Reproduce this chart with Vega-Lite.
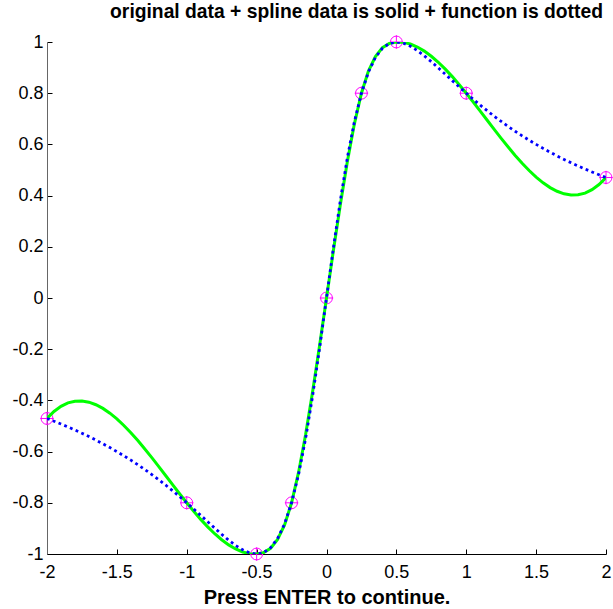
{
"$schema": "https://vega.github.io/schema/vega-lite/v6.json",
"width": 559,
"height": 512,
"autosize": {"type": "none"},
"padding": {"left": 47, "top": 42, "right": 7, "bottom": 55},
"background": "white",
"config": {"view": {"stroke": null}, "font": "Liberation Sans"},
"title": {"text": "original data + spline data is solid + function is dotted", "fontSize": 19.3, "fontWeight": "bold", "font": "Liberation Sans", "offset": 11, "dx": 30, "anchor": "middle", "color": "black"},
"datasets": {
"spline": [
{"x": -2, "y": -0.47059}, {"x": -1.95, "y": -0.44314}, {"x": -1.9, "y": -0.42304}, {"x": -1.85, "y": -0.40983}, {"x": -1.8, "y": -0.40306}, {"x": -1.75, "y": -0.40228}, {"x": -1.7, "y": -0.40703}, {"x": -1.65, "y": -0.41685}, {"x": -1.6, "y": -0.43129}, {"x": -1.55, "y": -0.44991}, {"x": -1.5, "y": -0.47224}, {"x": -1.45, "y": -0.49783}, {"x": -1.4, "y": -0.52622}, {"x": -1.35, "y": -0.55697}, {"x": -1.3, "y": -0.58962}, {"x": -1.25, "y": -0.62372}, {"x": -1.2, "y": -0.65881}, {"x": -1.15, "y": -0.69443}, {"x": -1.1, "y": -0.73014}, {"x": -1.05, "y": -0.76548}, {"x": -1, "y": -0.8}, {"x": -0.95, "y": -0.83324}, {"x": -0.9, "y": -0.86474}, {"x": -0.85, "y": -0.89407}, {"x": -0.8, "y": -0.92075}, {"x": -0.75, "y": -0.94434}, {"x": -0.7, "y": -0.96438}, {"x": -0.65, "y": -0.98042}, {"x": -0.6, "y": -0.99201}, {"x": -0.55, "y": -0.99869}, {"x": -0.5, "y": -1}, {"x": -0.45, "y": -0.99462}, {"x": -0.4, "y": -0.97767}, {"x": -0.35, "y": -0.94342}, {"x": -0.3, "y": -0.88611}, {"x": -0.25, "y": -0.8}, {"x": -0.2, "y": -0.68146}, {"x": -0.15, "y": -0.53527}, {"x": -0.1, "y": -0.36836}, {"x": -0.05, "y": -0.18764}, {"x": 0, "y": 0},
{"x": 0.05, "y": 0.18764}, {"x": 0.1, "y": 0.36836}, {"x": 0.15, "y": 0.53527}, {"x": 0.2, "y": 0.68146}, {"x": 0.25, "y": 0.8}, {"x": 0.3, "y": 0.88611}, {"x": 0.35, "y": 0.94342}, {"x": 0.4, "y": 0.97767}, {"x": 0.45, "y": 0.99462}, {"x": 0.5, "y": 1}, {"x": 0.55, "y": 0.99869}, {"x": 0.6, "y": 0.99201}, {"x": 0.65, "y": 0.98042}, {"x": 0.7, "y": 0.96438}, {"x": 0.75, "y": 0.94434}, {"x": 0.8, "y": 0.92075}, {"x": 0.85, "y": 0.89407}, {"x": 0.9, "y": 0.86474}, {"x": 0.95, "y": 0.83324}, {"x": 1, "y": 0.8}, {"x": 1.05, "y": 0.76548}, {"x": 1.1, "y": 0.73014}, {"x": 1.15, "y": 0.69443}, {"x": 1.2, "y": 0.65881}, {"x": 1.25, "y": 0.62372}, {"x": 1.3, "y": 0.58962}, {"x": 1.35, "y": 0.55697}, {"x": 1.4, "y": 0.52622}, {"x": 1.45, "y": 0.49783}, {"x": 1.5, "y": 0.47224}, {"x": 1.55, "y": 0.44991}, {"x": 1.6, "y": 0.43129}, {"x": 1.65, "y": 0.41685}, {"x": 1.7, "y": 0.40703}, {"x": 1.75, "y": 0.40228}, {"x": 1.8, "y": 0.40306}, {"x": 1.85, "y": 0.40983}, {"x": 1.9, "y": 0.42304}, {"x": 1.95, "y": 0.44314}, {"x": 2, "y": 0.47059}
],
"func": [
{"x": -2, "y": -0.47059}, {"x": -1.95, "y": -0.48118}, {"x": -1.9, "y": -0.49223}, {"x": -1.85, "y": -0.50374}, {"x": -1.8, "y": -0.51576}, {"x": -1.75, "y": -0.5283}, {"x": -1.7, "y": -0.5414}, {"x": -1.65, "y": -0.55509}, {"x": -1.6, "y": -0.5694}, {"x": -1.55, "y": -0.58435}, {"x": -1.5, "y": -0.6}, {"x": -1.45, "y": -0.61637}, {"x": -1.4, "y": -0.63348}, {"x": -1.35, "y": -0.65139}, {"x": -1.3, "y": -0.6701}, {"x": -1.25, "y": -0.68966}, {"x": -1.2, "y": -0.71006}, {"x": -1.15, "y": -0.73132}, {"x": -1.1, "y": -0.75342}, {"x": -1.05, "y": -0.77634}, {"x": -1, "y": -0.8}, {"x": -0.95, "y": -0.8243}, {"x": -0.9, "y": -0.84906}, {"x": -0.85, "y": -0.87404}, {"x": -0.8, "y": -0.89888}, {"x": -0.75, "y": -0.92308}, {"x": -0.7, "y": -0.94595}, {"x": -0.65, "y": -0.96654}, {"x": -0.6, "y": -0.98361}, {"x": -0.55, "y": -0.99548}, {"x": -0.5, "y": -1}, {"x": -0.45, "y": -0.99448}, {"x": -0.4, "y": -0.97561}, {"x": -0.35, "y": -0.9396}, {"x": -0.3, "y": -0.88235}, {"x": -0.25, "y": -0.8}, {"x": -0.2, "y": -0.68966}, {"x": -0.15, "y": -0.55046}, {"x": -0.1, "y": -0.38462}, {"x": -0.05, "y": -0.19802}, {"x": 0, "y": 0},
{"x": 0.05, "y": 0.19802}, {"x": 0.1, "y": 0.38462}, {"x": 0.15, "y": 0.55046}, {"x": 0.2, "y": 0.68966}, {"x": 0.25, "y": 0.8}, {"x": 0.3, "y": 0.88235}, {"x": 0.35, "y": 0.9396}, {"x": 0.4, "y": 0.97561}, {"x": 0.45, "y": 0.99448}, {"x": 0.5, "y": 1}, {"x": 0.55, "y": 0.99548}, {"x": 0.6, "y": 0.98361}, {"x": 0.65, "y": 0.96654}, {"x": 0.7, "y": 0.94595}, {"x": 0.75, "y": 0.92308}, {"x": 0.8, "y": 0.89888}, {"x": 0.85, "y": 0.87404}, {"x": 0.9, "y": 0.84906}, {"x": 0.95, "y": 0.8243}, {"x": 1, "y": 0.8}, {"x": 1.05, "y": 0.77634}, {"x": 1.1, "y": 0.75342}, {"x": 1.15, "y": 0.73132}, {"x": 1.2, "y": 0.71006}, {"x": 1.25, "y": 0.68966}, {"x": 1.3, "y": 0.6701}, {"x": 1.35, "y": 0.65139}, {"x": 1.4, "y": 0.63348}, {"x": 1.45, "y": 0.61637}, {"x": 1.5, "y": 0.6}, {"x": 1.55, "y": 0.58435}, {"x": 1.6, "y": 0.5694}, {"x": 1.65, "y": 0.55509}, {"x": 1.7, "y": 0.5414}, {"x": 1.75, "y": 0.5283}, {"x": 1.8, "y": 0.51576}, {"x": 1.85, "y": 0.50374}, {"x": 1.9, "y": 0.49223}, {"x": 1.95, "y": 0.48118}, {"x": 2, "y": 0.47059}
],
"points": [
{"x": -2, "y": -0.47059}, {"x": -1, "y": -0.8}, {"x": -0.5, "y": -1}, {"x": -0.25, "y": -0.8}, {"x": 0, "y": 0}, {"x": 0.25, "y": 0.8}, {"x": 0.5, "y": 1}, {"x": 1, "y": 0.8}, {"x": 2, "y": 0.47059}
]
},
"encoding": {
"x": {"field": "x", "type": "quantitative",
 "scale": {"domain": [-2, 2], "nice": false, "zero": false},
 "axis": {"title": "Press ENTER to continue.", "values": [-2, -1.5, -1, -0.5, 0, 0.5, 1, 1.5, 2], "labelExpr": "toString(datum.value)", "grid": false, "tickSize": -5, "labelPadding": 14, "domainColor": "black", "tickColor": "black", "labelColor": "black", "labelFontSize": 18, "labelFont": "Liberation Sans", "labelFlush": false, "titleFontSize": 20, "titleFont": "Liberation Sans", "titleFontWeight": "bold", "titleColor": "black", "titlePadding": 6}},
"y": {"field": "y", "type": "quantitative",
 "scale": {"domain": [-1, 1], "nice": false, "zero": false},
 "axis": {"title": null, "values": [-1, -0.8, -0.6, -0.4, -0.2, 0, 0.2, 0.4, 0.6, 0.8, 1], "labelExpr": "toString(datum.value)", "grid": false, "tickSize": -5, "labelPadding": 9, "domainColor": "#666666", "tickColor": "black", "labelColor": "black", "labelFontSize": 18, "labelFont": "Liberation Sans", "labelFlush": false}}
},
"layer": [
{"data": {"name": "points"}, "mark": {"type": "point", "shape": "circle", "filled": false, "stroke": "#ff00ff", "strokeWidth": 1, "size": 140, "opacity": 1}},
{"data": {"name": "points"}, "mark": {"type": "point", "shape": "M-1,0H1M0,-1V1", "filled": false, "stroke": "#ff00ff", "strokeWidth": 1, "size": 180, "opacity": 1}},
{"data": {"name": "spline"}, "mark": {"type": "line", "color": "#00ff00", "strokeWidth": 3, "clip": true}},
{"data": {"name": "func"}, "mark": {"type": "line", "color": "#0000ff", "strokeWidth": 2.8, "strokeDash": [2.8, 3.4], "strokeCap": "butt", "clip": true}}
]
}
